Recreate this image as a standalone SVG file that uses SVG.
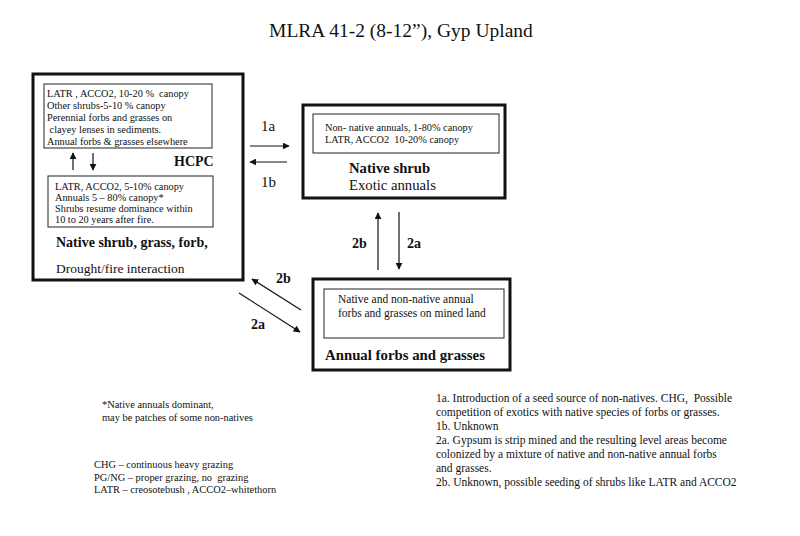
<svg xmlns="http://www.w3.org/2000/svg" width="800" height="536" viewBox="0 0 800 536">
<style>
text{font-family:"Liberation Serif","Times New Roman",serif;fill:#111}
.box{fill:none;stroke:#111;stroke-width:3}
.inner{fill:none;stroke:#222;stroke-width:1}
.s{font-size:10.3px}
.n{font-size:10.4px}
.r{font-size:11.5px}
.m{font-size:13.5px}
.m2{font-size:14.7px}
.b{font-size:14px;font-weight:bold}
.lab{font-size:14px;font-weight:bold}
.lab1{font-size:15px}
.arr{stroke:#111;stroke-width:1.2;fill:none;marker-end:url(#ah)}
</style>
<defs>
<marker id="ah" viewBox="0 0 10 10" refX="9" refY="5" markerWidth="7" markerHeight="7" markerUnits="userSpaceOnUse" orient="auto">
<path d="M0,0 L10,5 L0,10 z" fill="#111"/>
</marker>
</defs>
<rect width="800" height="536" fill="#fff"/>
<text x="401" y="37" font-size="19.5" text-anchor="middle">MLRA 41-2 (8-12”), Gyp Upland</text>

<g id="hcpc">
<rect class="box" x="33" y="74" width="210" height="206"/>
<rect class="inner" x="44" y="84" width="168" height="64"/>
<text class="s" x="47" y="97">LATR , ACCO2, 10-20 %&#160; canopy</text>
<text class="s" x="47" y="109">Other shrubs-5-10 % canopy</text>
<text class="s" x="47" y="121">Perennial forbs and grasses on</text>
<text class="s" x="47" y="133">&#160;clayey lenses in sediments.</text>
<text class="s" x="47" y="145">Annual forbs &amp; grasses elsewhere</text>
<text x="174" y="166" font-size="14" font-weight="bold">HCPC</text>
<rect class="inner" x="48" y="176" width="165" height="51"/>
<text class="s" x="55" y="190">LATR, ACCO2, 5-10% canopy</text>
<text class="s" x="55" y="201">Annuals 5 – 80% canopy*</text>
<text class="s" x="55" y="212">Shrubs resume dominance within</text>
<text class="s" x="55" y="223">10 to 20 years after fire.</text>
<text class="b" x="56" y="247">Native shrub, grass, forb,</text>
<text class="m" x="56" y="273">Drought/fire interaction</text>
</g>

<g id="native-shrub">
<rect class="box" x="303" y="105" width="202" height="93"/>
<rect class="inner" x="313" y="114" width="186" height="39"/>
<text class="s" x="325" y="131">Non- native annuals, 1-80% canopy</text>
<text class="s" x="325" y="143">LATR, ACCO2&#160; 10-20% canopy</text>
<text x="349" y="173" font-size="14.7" font-weight="bold">Native shrub</text>
<text class="m2" x="349" y="190">Exotic annuals</text>
</g>

<g id="annual-forbs">
<rect class="box" x="313" y="279" width="197" height="91"/>
<rect class="inner" x="324" y="289" width="180" height="49"/>
<text class="r" x="338" y="303">Native and non-native annual</text>
<text class="r" x="338" y="317">forbs and grasses on mined land</text>
<text x="325" y="360" font-size="14.8" font-weight="bold">Annual forbs and grasses</text>
</g>

<g id="connectors">
<line class="arr" x1="73" y1="170" x2="73" y2="153"/>
<line class="arr" x1="93" y1="153" x2="93" y2="170"/>
<line class="arr" x1="250" y1="146" x2="289" y2="146"/>
<line class="arr" x1="287" y1="162" x2="250" y2="162"/>
<line class="arr" x1="378" y1="270" x2="378" y2="213"/>
<line class="arr" x1="399" y1="212" x2="399" y2="269"/>
<line class="arr" x1="301" y1="310" x2="252" y2="279"/>
<line class="arr" x1="239" y1="293" x2="300" y2="332"/>
<text class="lab1" x="261" y="131">1a</text>
<text class="lab1" x="261" y="187">1b</text>
<text class="lab" x="352" y="248">2b</text>
<text class="lab" x="407" y="248">2a</text>
<text class="lab" x="276" y="283">2b</text>
<text class="lab" x="251" y="329">2a</text>
</g>

<g id="notes">
<text class="n" x="102" y="408">*Native annuals dominant,</text>
<text class="n" x="102" y="421">may be patches of some non-natives</text>
<text class="n" x="94" y="468">CHG – continuous heavy grazing</text>
<text class="n" x="94" y="481">PG/NG – proper grazing, no&#160; grazing</text>
<text class="n" x="94" y="493">LATR – creosotebush , ACCO2–whitethorn</text>
<text class="r" x="436" y="402">1a. Introduction of a seed source of non-natives. CHG,&#160; Possible</text>
<text class="r" x="436" y="416">competition of exotics with native species of forbs or grasses.</text>
<text class="r" x="436" y="430">1b. Unknown</text>
<text class="r" x="436" y="444">2a. Gypsum is strip mined and the resulting level areas become</text>
<text class="r" x="436" y="458">colonized by a mixture of native and non-native annual forbs</text>
<text class="r" x="436" y="472">and grasses.</text>
<text class="r" x="436" y="486">2b. Unknown, possible seeding of shrubs like LATR and ACCO2</text>
</g>
</svg>
